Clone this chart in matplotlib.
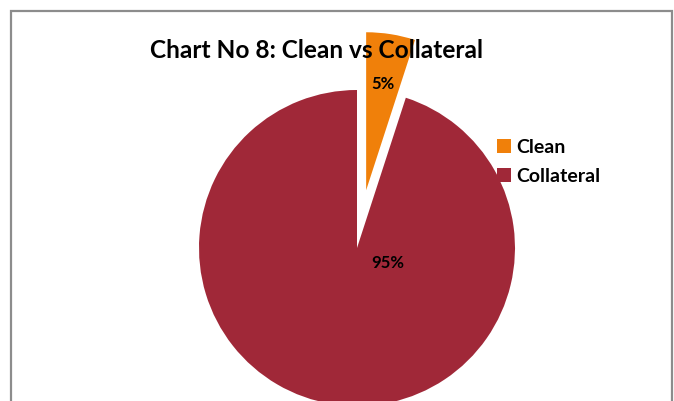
import matplotlib
matplotlib.use("Agg")
import matplotlib.pyplot as plt
from matplotlib.patches import Rectangle

categories = ["Clean", "Collateral"]
values = [5, 95]
colors = ["#F0800A", "#A02838"]
title = "Chart No 8: Clean vs Collateral"

W, H = 674, 401
fig = plt.figure(figsize=(W / 100, H / 100), dpi=100)
fig.patch.set_facecolor("white")

scale = 158.0
cx, cy = 357.0, 248.0
ax = fig.add_axes([0, 0, 1, 1])
ax.set_aspect("equal")
ax.axis("off")

wedges, texts, autotexts = ax.pie(
    values, colors=colors, startangle=90, counterclock=False,
    explode=[0.37, 0], radius=1.0, autopct="%1.0f%%", pctdistance=0.68,
    textprops=dict(fontsize=12, fontweight="bold", family="Lato", color="black"),
    center=(0, 0), frame=False)
ax.set_xlim(-cx / scale, (W - cx) / scale)
ax.set_ylim(-(H - cy) / scale, cy / scale)
ax.axis("off")
# Excel-like placement of the large slice label
autotexts[1].set_position((31 / scale, -14.5 / scale))
for t in autotexts:
    t.set_zorder(5)

fig.text(317 / W, 1 - 50 / H, title, ha="center", va="center",
         fontsize=17.6, fontweight="bold", family="Lato", zorder=10)

leg = fig.legend(wedges, categories, loc="upper left",
                 bbox_to_anchor=(497 / W, 1 - 139 / H), frameon=False,
                 prop=dict(family="Lato", weight="bold", size=14),
                 handlelength=0.7, handleheight=0.7, handletextpad=0.3,
                 labelspacing=0.6, borderpad=0, borderaxespad=0)

border = Rectangle((11 / W, -0.1), (672 - 11) / W, (1 - 11 / H) + 0.1,
                   transform=fig.transFigure, fill=False,
                   edgecolor="#8C8C8C", linewidth=1.6, zorder=20)
fig.patches.append(border)

fig.savefig("out.png", dpi=100)
